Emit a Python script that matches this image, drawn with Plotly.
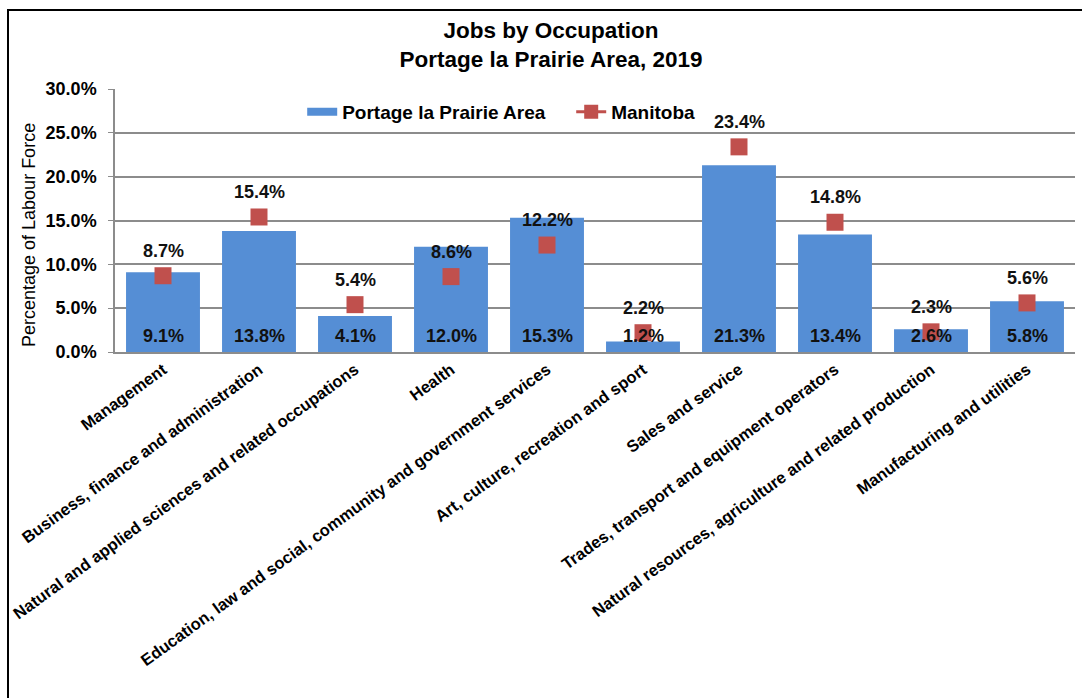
import plotly.graph_objects as go

# Occupation categories and shares of the labour force (%)
categories = [
    "Management",
    "Business, finance and administration",
    "Natural and applied sciences and related occupations",
    "Health",
    "Education, law and social, community and government services",
    "Art, culture, recreation and sport",
    "Sales and service",
    "Trades, transport and equipment operators",
    "Natural resources, agriculture and related production",
    "Manufacturing and utilities",
]
portage = [9.1, 13.8, 4.1, 12.0, 15.3, 1.2, 21.3, 13.4, 2.6, 5.8]
manitoba = [8.7, 15.4, 5.4, 8.6, 12.2, 2.2, 23.4, 14.8, 2.3, 5.6]
y_ticks = [0, 5, 10, 15, 20, 25, 30]
y_tick_labels = ["0.0%", "5.0%", "10.0%", "15.0%", "20.0%", "25.0%", "30.0%"]

BAR_BLUE = "#558ed5"
MB_RED = "#c0504d"
GRID = "#8c8c8c"
FONT = "Liberation Sans, Arial, sans-serif"

# plot area in pixels
L, R, T, B = 115, 7, 89, 346
W, H = 1082, 698
PW, PH = W - L - R, H - T - B

fig = go.Figure()

fig.add_trace(go.Bar(
    x=categories, y=portage, name="Portage la Prairie Area", showlegend=False,
    marker=dict(color=BAR_BLUE, line=dict(width=0)),
    hoverinfo="skip",
))

# Manitoba values as square markers
fig.add_trace(go.Scatter(
    x=categories, y=manitoba, mode="markers", showlegend=False,
    marker=dict(symbol="square", size=17, color=MB_RED),
    hoverinfo="skip",
))

# legend entries: wide blue swatch and red line with square marker
fig.add_trace(go.Scatter(
    x=[None], y=[None], mode="lines", name="Portage la Prairie Area",
    line=dict(color=BAR_BLUE, width=8),
))
fig.add_trace(go.Scatter(
    x=[None], y=[None], mode="lines+markers", name="Manitoba",
    line=dict(color=MB_RED, width=3),
    marker=dict(symbol="square", size=14, color=MB_RED),
))

label_font = dict(family=FONT, size=18, color="#111111")

# Manitoba values above the markers
annotations = [
    dict(x=c, y=v, xref="x", yref="y", text=f"<b>{v:.1f}%</b>",
         showarrow=False, yshift=25, font=label_font)
    for c, v in zip(categories, manitoba)
]
# Portage values at the base of each bar
annotations += [
    dict(x=c, y=0, xref="x", yref="y", text=f"<b>{v:.1f}%</b>",
         showarrow=False, yshift=16, yanchor="middle", font=label_font)
    for c, v in zip(categories, portage)
]
# y-axis title
annotations.append(dict(
    text="Percentage of Labour Force", textangle=-90, showarrow=False,
    xref="paper", yref="paper",
    x=(29 - L) / PW, y=(H - B - 235) / PH,
    xanchor="center", yanchor="middle",
    font=dict(family=FONT, size=18, color="#000000"),
))

fig.update_layout(
    width=W, height=H,
    margin=dict(l=L, r=R, t=T, b=B, autoexpand=False),
    paper_bgcolor="white", plot_bgcolor="white",
    font=dict(family=FONT, color="#000000"),
    title=dict(
        text="<b>Jobs by Occupation<br>Portage la Prairie Area, 2019</b>",
        x=551 / W, xanchor="center", y=1 - 38 / H, yanchor="middle",
        font=dict(family=FONT, size=22.5, color="#000000"),
    ),
    bargap=0.23,
    showlegend=True,
    legend=dict(
        orientation="h", x=0.195, xanchor="left", y=0.913, yanchor="middle",
        font=dict(family=FONT, size=19, color="#000000", weight="bold"),
        bgcolor="rgba(0,0,0,0)", itemwidth=30, entrywidth=224,
        traceorder="normal",
    ),
    annotations=annotations,
    shapes=[dict(
        type="rect", xref="paper", yref="paper",
        x0=(8 - L) / PW, x1=1.2, y0=-2.0, y1=(H - B - 10) / PH,
        line=dict(color="#000000", width=2), fillcolor="rgba(0,0,0,0)",
        layer="above",
    )],
)

fig.update_xaxes(
    type="category", range=[-0.5, len(categories) - 0.5],
    tickangle=-36, automargin=False,
    tickfont=dict(family=FONT, size=16.5, color="#000000", weight="bold"),
    showline=True, linecolor=GRID, linewidth=1.5,
    ticks="", showgrid=False,
)
fig.update_yaxes(
    range=[0, 30], tickvals=y_ticks, ticktext=y_tick_labels, automargin=False,
    tickfont=dict(family=FONT, size=18, color="#000000", weight="bold"),
    showline=True, linecolor=GRID, linewidth=1.5,
    ticks="outside", ticklen=5, tickcolor=GRID, ticklabelstandoff=8,
    showgrid=True, gridcolor=GRID, gridwidth=1.5,
    zeroline=False,
)

fig.write_html("out.html")
